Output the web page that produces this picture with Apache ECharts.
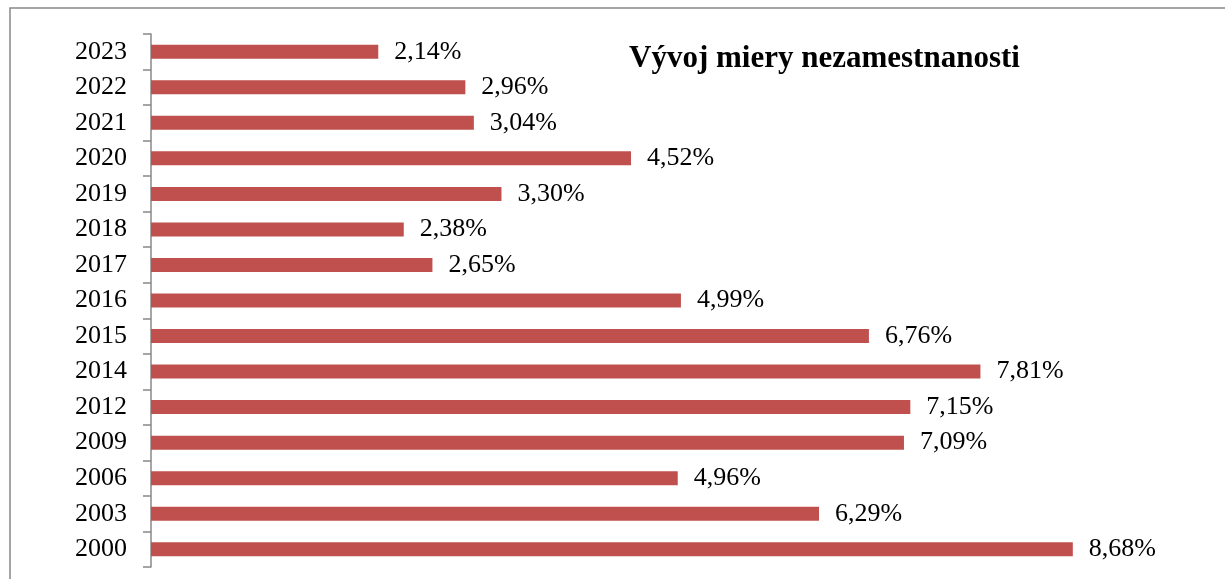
<!DOCTYPE html>
<html>
<head>
<meta charset="utf-8">
<script src="https://cdn.jsdelivr.net/npm/echarts@6/dist/echarts.min.js"></script>
<style>
html, body { margin: 0; padding: 0; background: #fff; }
#main { width: 1225px; height: 579px; }
</style>
</head>
<body>
<div id="main"></div>
<script>
var years = ['2000', '2003', '2006', '2009', '2012', '2014', '2015', '2016', '2017', '2018', '2019', '2020', '2021', '2022', '2023'];
var rates = [8.68, 6.29, 4.96, 7.09, 7.15, 7.81, 6.76, 4.99, 2.65, 2.38, 3.30, 4.52, 3.04, 2.96, 2.14];

var chart = echarts.init(document.getElementById('main'));
var option = {
    animation: false,
    title: {
        text: 'Vývoj miery nezamestnanosti',
        left: 624,
        top: 38,
        textStyle: {
            fontFamily: 'Liberation Serif',
            fontWeight: 'bold',
            fontSize: 31,
            color: '#000'
        }
    },
    graphic: [{
        type: 'rect',
        shape: { x: 10, y: 8, width: 1240, height: 600 },
        style: { fill: 'none', stroke: '#888', lineWidth: 1.5 }
    }],
    grid: { left: 151, right: 12, top: 34, bottom: 12 },
    xAxis: {
        type: 'value',
        min: 0,
        max: 10,
        show: false
    },
    yAxis: {
        type: 'category',
        data: years,
        axisLine: { show: true, lineStyle: { color: '#888', width: 1.5 } },
        axisTick: { show: true, length: 8, lineStyle: { color: '#888', width: 1.5 } },
        axisLabel: {
            margin: 24,
            fontFamily: 'Liberation Serif',
            fontSize: 26,
            color: '#000'
        }
    },
    series: [{
        type: 'bar',
        data: rates,
        barWidth: 14,
        itemStyle: { color: '#C0504D' },
        label: {
            show: true,
            position: 'right',
            distance: 16,
            fontFamily: 'Liberation Serif',
            fontSize: 26,
            color: '#000',
            formatter: function (p) {
                return p.value.toFixed(2).replace('.', ',') + '%';
            }
        }
    }]
};
chart.setOption(option);
</script>
</body>
</html>
